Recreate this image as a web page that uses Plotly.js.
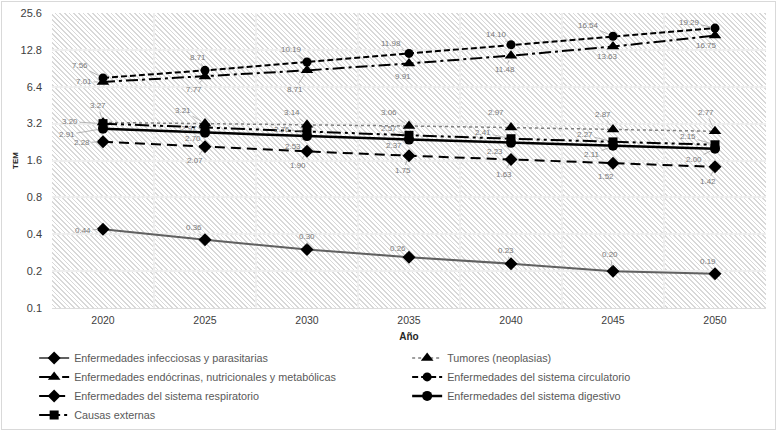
<!DOCTYPE html>
<html><head><meta charset="utf-8">
<script src="https://cdn.plot.ly/plotly-3.0.1.min.js"></script>
<style>
html,body{margin:0;padding:0;background:#fff;}
#wrap{position:relative;width:780px;height:435px;overflow:hidden;background:#fff;}
#hatch{position:absolute;left:52px;top:13px;width:714px;height:295px;background:repeating-linear-gradient(45deg,#ffffff 0px,#ffffff 2.2px,#d8d8d8 2.2px,#d8d8d8 3.3px);}
#frame{position:absolute;left:1px;top:1px;width:773px;height:427px;border:1px solid #d9d9d9;}
#chart{position:absolute;left:0;top:0;width:780px;height:435px;}
</style></head>
<body><div id="wrap"><div id="hatch"></div><div id="frame"></div><div id="chart"></div></div>
<script>
// ---- data ----
const years = ['2020','2025','2030','2035','2040','2045','2050'];
const infecciosas  = [0.44,0.36,0.30,0.26,0.23,0.20,0.19];
const tumores      = [3.27,3.21,3.14,3.06,2.97,2.87,2.77];
const endocrinas   = [7.01,7.77,8.71,9.91,11.48,13.63,16.75];
const circulatorio = [7.56,8.71,10.19,11.98,14.10,16.54,19.29];
const respiratorio = [2.28,2.07,1.90,1.75,1.63,1.52,1.42];
const digestivo    = [2.91,2.70,2.53,2.37,2.23,2.11,2.00];
const externas     = [3.20,2.97,2.76,2.57,2.41,2.27,2.15];
const yTickVals = [0.1,0.2,0.4,0.8,1.6,3.2,6.4,12.8,25.6];
const yTickText = ['0.1','0.2','0.4','0.8','1.6','3.2','6.4','12.8','25.6'];
const seriesNames = [
  'Enfermedades infecciosas y parasitarias',
  'Tumores (neoplasias)',
  'Enfermedades endócrinas, nutricionales y metabólicas',
  'Enfermedades del sistema circulatorio',
  'Enfermedades del sistema respiratorio',
  'Enfermedades del sistema digestivo',
  'Causas externas'
];
const seriesValues = [infecciosas,tumores,endocrinas,circulatorio,respiratorio,digestivo,externas];

// ---- styles ----
const styles = [
  {line:{color:'#606060',width:2,dash:'solid'}, marker:{symbol:'diamond',size:10,color:'#000'}},
  {line:{color:'#808080',width:1.5,dash:'dot'}, marker:{symbol:'triangle-up',size:11,color:'#000'}},
  {line:{color:'#000',width:2,dash:'12px,4px,3px,4px'}, marker:{symbol:'triangle-up',size:11,color:'#000'}},
  {line:{color:'#000',width:2,dash:'6px,3px'}, marker:{symbol:'circle',size:9,color:'#000'}},
  {line:{color:'#000',width:2,dash:'10px,6px'}, marker:{symbol:'diamond',size:10,color:'#000'}},
  {line:{color:'#000',width:2.5,dash:'solid'}, marker:{symbol:'circle',size:10,color:'#000'}},
  {line:{color:'#000',width:2,dash:'14px,4px,3px,4px,3px,4px'}, marker:{symbol:'square',size:9,color:'#000'}}
];
// label offsets (pixels) per series / point
const labelOffsets = [
  [[-20,1],[-11,-12],[0,-13],[-11,-9],[-5,-13],[-3,-17],[-7,-12]],
  [[-5,-17],[-22,-13],[-15,-12],[-20,-14],[-15,-15],[-10,-15],[-9,-19]],
  [[-19,0],[-11,13],[-12,19],[-6,13],[-6,14],[-6,10],[-9,10]],
  [[-23,-12],[-7,-13],[-16,-13],[-18,-10],[-15,-10],[-25,-11],[-26,-6]],
  [[-21,1],[-10,14],[-9,14],[-6,15],[-7,15],[-7,13],[-7,15]],
  [[-36,6],[-12,6],[-14,10],[-15,6],[-16,9],[-21,9],[-21,11]],
  [[-33,-2],[-16,1],[-25,-2],[-20,-7],[-28,-6],[-28,-7],[-27,-8]]
];

const traces = seriesValues.map((vals,i)=>({
  type:'scatter', mode:'lines+markers', name:seriesNames[i],
  x:years, y:vals, line:styles[i].line, marker:styles[i].marker,
  hoverinfo:'x+y'
}));

const annotations = [];
seriesValues.forEach((vals,i)=>{
  vals.forEach((v,j)=>{
    annotations.push({
      x:j, y:Math.log10(v), xref:'x', yref:'y',
      text:v.toFixed(2), showarrow:true, arrowhead:0, arrowwidth:0.8,
      arrowcolor:'#a6a6a6', standoff:5,
      ax:labelOffsets[i][j][0], ay:labelOffsets[i][j][1],
      font:{size:8,color:'#7a7a7a'}
    });
  });
});

const layout = {
  width:780, height:435,
  margin:{l:52,r:14,t:13,b:127,pad:0,autoexpand:false},
  paper_bgcolor:'rgba(0,0,0,0)', plot_bgcolor:'rgba(0,0,0,0)',
  font:{family:'Liberation Sans, Arial, sans-serif', color:'#404040'},
  showlegend:true,
  xaxis:{
    type:'category', categoryorder:'array', categoryarray:years,
    range:[-0.5,6.5], tickson:'boundaries', showgrid:true,
    gridcolor:'#eeeeee', gridwidth:2, ticks:'', zeroline:false,
    showline:true, linecolor:'#dcdcdc', linewidth:1,
    tickfont:{size:10.5,color:'#404040'}, ticklabelstandoff:2,
    title:{text:'Año', font:{size:10,color:'#262626',weight:'bold'}, standoff:8}
  },
  yaxis:{
    type:'log', range:[Math.log10(0.1),Math.log10(25.6)],
    tickvals:yTickVals, ticktext:yTickText, showgrid:true,
    gridcolor:'#eeeeee', gridwidth:2, zeroline:false, ticks:'',
    tickfont:{size:11,color:'#404040'}, ticklabelstandoff:9,
    title:{text:'TEM', font:{size:8,color:'#262626',weight:'bold'}, standoff:0}
  },
  legend:{
    orientation:'h', xref:'paper', yref:'paper',
    x:-0.025, xanchor:'left', y:-0.120, yanchor:'top',
    entrywidth:328, entrywidthmode:'pixels', traceorder:'normal',
    bgcolor:'rgba(0,0,0,0)', font:{size:10.8,color:'#595959'}
  },
  annotations:annotations
};

Plotly.newPlot('chart', traces, layout, {displayModeBar:false, staticPlot:true});
</script>
</body></html>
